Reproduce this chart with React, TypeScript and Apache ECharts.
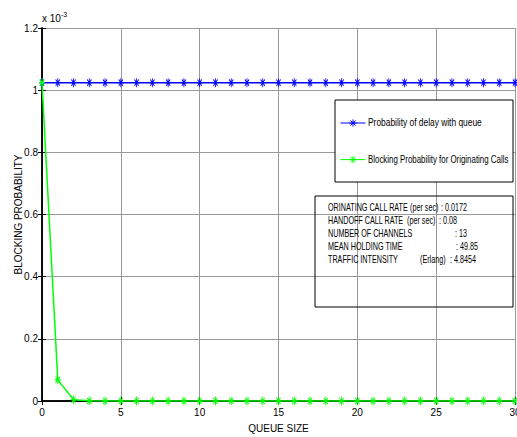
import React, { useEffect, useRef } from 'react';
import * as echarts from 'echarts';

// Queue size (x axis)
const queueSize = [0, 1, 2, 3, 4, 5, 6, 7, 8, 9, 10, 11, 12, 13, 14, 15, 16, 17, 18, 19, 20, 21, 22, 23, 24, 25, 26, 27, 28, 29, 30];
// Values in units of 10^-3 (as shown on the y axis)
const delayWithQueue = [1.024, 1.024, 1.024, 1.024, 1.024, 1.024, 1.024, 1.024, 1.024, 1.024, 1.024, 1.024, 1.024, 1.024, 1.024, 1.024, 1.024, 1.024, 1.024, 1.024, 1.024, 1.024, 1.024, 1.024, 1.024, 1.024, 1.024, 1.024, 1.024, 1.024, 1.024];
const blockingOriginating = [1.024, 0.068, 0.004, 0.0005, 0.0001, 0, 0, 0, 0, 0, 0, 0, 0, 0, 0, 0, 0, 0, 0, 0, 0, 0, 0, 0, 0, 0, 0, 0, 0, 0, 0];

const seriesNames = ['Probability of delay with queue', 'Blocking Probability for Originating Calls'];
const seriesColors = ['#0000ff', '#00ff00'];

const infoLabels = ['ORINATING CALL RATE', 'HANDOFF CALL RATE', 'NUMBER OF CHANNELS', 'MEAN HOLDING TIME', 'TRAFFIC INTENSITY'];
const infoUnits = ['(per sec)', '(per sec)', '', '', '(Erlang)'];
const infoValues = [': 0.0172', ': 0.08', ': 13', ': 49.85', ': 4.8454'];

const FONT = "'Liberation Sans', Arial, sans-serif";
const STAR = 'path://M0,-6L0,6M-6,0L6,0M-4.2,-4.2L4.2,4.2M-4.2,4.2L4.2,-4.2';

export default function App() {
  const ref = useRef<HTMLDivElement>(null);
  useEffect(() => {
    document.body.style.margin = '0';
    const chart = echarts.init(ref.current!, undefined, { renderer: 'svg' });
    const mk = (arr: number[]) => queueSize.map((x, i) => [x, arr[i]]);
    const txt = (text: string, x: number, y: number, sx: number) => ({
      type: 'text', x, y, z: 30, scaleX: sx, originX: 0,
      style: { text, font: `10px ${FONT}`, fill: '#000', textVerticalAlign: 'middle' },
    });
    const infoGraphics: any[] = [];
    const rowY = [208, 221, 234, 247, 260];
    const unitX = [410, 407, 0, 0, 420];
    const valX = [441, 439, 455, 456, 450];
    infoLabels.forEach((t, i) => {
      infoGraphics.push(txt(t, 328, rowY[i], 0.72));
      if (infoUnits[i]) infoGraphics.push(txt(infoUnits[i], unitX[i], rowY[i], 0.72));
      infoGraphics.push(txt(infoValues[i], valX[i], rowY[i], 0.72));
    });
    const legendTexts = [txt(seriesNames[0], 368, 123, 0.84), txt(seriesNames[1], 368, 160, 0.79)];
    const option: any = {
      animation: false,
      backgroundColor: '#fff',
      grid: { left: 42, right: 2, top: 28, bottom: 36, show: false, containLabel: false, outerBoundsMode: 'none' },
      xAxis: [
        {
          type: 'value', min: 0, max: 30, interval: 5,
          name: 'QUEUE SIZE', nameLocation: 'middle', nameGap: 22, nameMoveOverlap: false,
          nameTextStyle: { fontFamily: FONT, fontSize: 10, color: '#000' },
          axisLine: { show: true, onZero: false, lineStyle: { color: '#000', width: 1.5 } },
          axisTick: { show: true, inside: true, length: 4, lineStyle: { color: '#000' } },
          axisLabel: { fontFamily: FONT, fontSize: 10, color: '#000', margin: 6 },
          splitLine: { show: true, lineStyle: { color: '#999', width: 1 } },
        },
        {
          type: 'value', min: 0, max: 30, interval: 5, position: 'top',
          axisLine: { show: true, lineStyle: { color: '#000', width: 1.5 } },
          axisTick: { show: true, inside: true, length: 4, lineStyle: { color: '#000' } },
          axisLabel: { show: false }, splitLine: { show: false },
        },
      ],
      yAxis: [
        {
          type: 'value', min: 0, max: 1.2, interval: 0.2,
          name: 'BLOCKING PROBABILITY', nameLocation: 'middle', nameGap: 19, nameMoveOverlap: false,
          nameTextStyle: { fontFamily: FONT, fontSize: 10, color: '#000' },
          axisLine: { show: true, onZero: false, lineStyle: { color: '#000', width: 1.5 } },
          axisTick: { show: true, inside: true, length: 4, lineStyle: { color: '#000' } },
          axisLabel: { fontFamily: FONT, fontSize: 10, color: '#000', margin: 4, formatter: (v: number) => String(Number(v.toFixed(1))) },
          splitLine: { show: true, lineStyle: { color: '#999', width: 1 } },
        },
        {
          type: 'value', min: 0, max: 1.2, interval: 0.2, position: 'right',
          axisLine: { show: true, lineStyle: { color: '#000', width: 1.5 } },
          axisTick: { show: true, inside: true, length: 4, lineStyle: { color: '#000' } },
          axisLabel: { show: false }, splitLine: { show: false },
        },
      ],
      legend: {
        orient: 'vertical', left: 340, top: 118.5, padding: 0, itemGap: 28, itemWidth: 25, itemHeight: 9, z: 20,
        textStyle: { fontFamily: FONT, fontSize: 10, color: '#000' },
        formatter: () => '',
        itemStyle: { borderWidth: 1 },
        lineStyle: { width: 1 },
        data: seriesNames,
      },
      graphic: [
        { type: 'rect', z: 15, shape: { x: 335, y: 100, width: 178, height: 82 }, style: { fill: '#fff', stroke: '#000', lineWidth: 1 } },
        { type: 'rect', z: 15, shape: { x: 315, y: 196, width: 198, height: 111 }, style: { fill: 'none', stroke: '#000', lineWidth: 1 } },
        {
          type: 'text', x: 42, y: 18, z: 10,
          style: {
            text: '{a|x 10}{b|-3}', textVerticalAlign: 'middle',
            rich: { a: { fontFamily: FONT, fontSize: 10, fill: '#000' }, b: { fontFamily: FONT, fontSize: 7, fill: '#000', verticalAlign: 'bottom', padding: [0, 0, 8, 0] } },
          },
        },
        ...legendTexts,
        ...infoGraphics,
      ],
      series: [
        {
          name: seriesNames[0], type: 'line', data: mk(delayWithQueue), symbol: STAR, symbolSize: [6, 9],
          lineStyle: { color: seriesColors[0], width: 1.5 },
          itemStyle: { color: seriesColors[0], borderColor: seriesColors[0], borderWidth: 1 },
        },
        {
          name: seriesNames[1], type: 'line', data: mk(blockingOriginating), symbol: STAR, symbolSize: [6, 9],
          lineStyle: { color: seriesColors[1], width: 1.5 },
          itemStyle: { color: seriesColors[1], borderColor: seriesColors[1], borderWidth: 1 },
        },
      ],
    };
    chart.setOption(option);
    return () => chart.dispose();
  }, []);
  return <div ref={ref} style={{ position: 'fixed', left: 0, top: 0, width: 517, height: 437 }} />;
}
